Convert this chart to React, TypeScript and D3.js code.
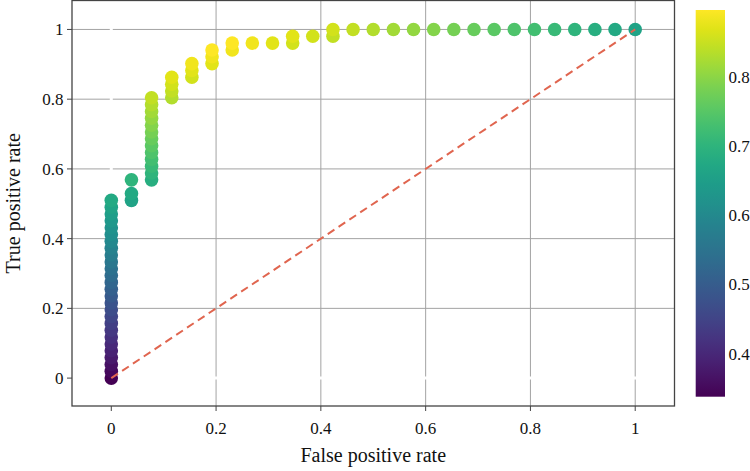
import React from "react";
import * as d3 from "d3";

// False positive rate of each threshold point
const fpr: number[] = [
  0, 0, 0, 0, 0, 0, 0, 0, 0, 0, 0, 0, 0, 0, 0, 0, 0, 0, 0, 0, 0, 0, 0, 0, 0, 0, 0,
  0.0385, 0.0385, 0.0385,
  0.0769, 0.0769, 0.0769, 0.0769, 0.0769, 0.0769, 0.0769, 0.0769, 0.0769, 0.0769, 0.0769, 0.0769, 0.0769,
  0.1154, 0.1154, 0.1154, 0.1154,
  0.1538, 0.1538, 0.1538,
  0.1923, 0.1923, 0.1923,
  0.2308, 0.2308,
  0.2692,
  0.3077,
  0.3462, 0.3462,
  0.3846,
  0.4231, 0.4231,
  0.4615, 0.5, 0.5385, 0.5769, 0.6154, 0.6538, 0.6923, 0.7308, 0.7692, 0.8077, 0.8462, 0.8846, 0.9231, 0.9615, 1,
];

// True positive rate of each threshold point
const tpr: number[] = [
  0, 0.0196, 0.0392, 0.0588, 0.0784, 0.098, 0.1176, 0.1373, 0.1569, 0.1765, 0.1961, 0.2157, 0.2353, 0.2549,
  0.2745, 0.2941, 0.3137, 0.3333, 0.3529, 0.3725, 0.3922, 0.4118, 0.4314, 0.451, 0.4706, 0.4902, 0.5098,
  0.5098, 0.5294, 0.5686,
  0.5686, 0.5882, 0.6078, 0.6275, 0.6471, 0.6667, 0.6863, 0.7059, 0.7255, 0.7451, 0.7647, 0.7843, 0.8039,
  0.8039, 0.8235, 0.8431, 0.8627,
  0.8627, 0.8824, 0.902,
  0.902, 0.9216, 0.9412,
  0.9412, 0.9608,
  0.9608,
  0.9608,
  0.9608, 0.9804,
  0.9804,
  0.9804, 1,
  1, 1, 1, 1, 1, 1, 1, 1, 1, 1, 1, 1, 1, 1, 1,
];

// Colour value (accuracy) of each threshold point
const accuracy: number[] = [
  0.3377, 0.3506, 0.3636, 0.3766, 0.3896, 0.4026, 0.4156, 0.4286, 0.4416, 0.4545, 0.4675, 0.4805, 0.4935, 0.5065,
  0.5195, 0.5325, 0.5455, 0.5584, 0.5714, 0.5844, 0.5974, 0.6104, 0.6234, 0.6364, 0.6494, 0.6623, 0.6753,
  0.6623, 0.6753, 0.7013,
  0.6883, 0.7013, 0.7143, 0.7273, 0.7403, 0.7532, 0.7662, 0.7792, 0.7922, 0.8052, 0.8182, 0.8312, 0.8442,
  0.8312, 0.8442, 0.8571, 0.8701,
  0.8571, 0.8701, 0.8831,
  0.8701, 0.8831, 0.8961,
  0.8831, 0.8961,
  0.8831,
  0.8701,
  0.8571, 0.8701,
  0.8571,
  0.8442, 0.8571,
  0.8442, 0.8312, 0.8182, 0.8052, 0.7922, 0.7792, 0.7662, 0.7532, 0.7403, 0.7273, 0.7143, 0.7013, 0.6883, 0.6753, 0.6623,
];

const xTicks: number[] = [0, 0.2, 0.4, 0.6, 0.8, 1];
const yTicks: number[] = [0, 0.2, 0.4, 0.6, 0.8, 1];
const xTickLabels: string[] = ["0", "0.2", "0.4", "0.6", "0.8", "1"];
const yTickLabels: string[] = ["0", "0.2", "0.4", "0.6", "0.8", "1"];
const cbarTicks: number[] = [0.4, 0.5, 0.6, 0.7, 0.8];
const diagonal: [number, number][] = [[0, 0], [1, 1]];
const xTitle = "False positive rate";
const yTitle = "True positive rate";

const W = 750;
const H = 471;
const plot = { left: 72, right: 674.5, top: 0.5, bottom: 406 };
const cbar = { left: 695.7, right: 725, top: 10, bottom: 396.7 };
const FONT = "'Liberation Serif', 'Times New Roman', serif";

export default function App() {
  const x = d3.scaleLinear().domain([-0.075, 1.075]).range([plot.left, plot.right]);
  const y = d3.scaleLinear().domain([-0.08, 1.083]).range([plot.bottom, plot.top]);
  const cMin = d3.min(accuracy) as number;
  const cMax = d3.max(accuracy) as number;
  const color = d3.scaleSequential(d3.interpolateViridis).domain([cMin, cMax]);
  const cy = d3.scaleLinear().domain([cMin, cMax]).range([cbar.bottom, cbar.top]);
  const line = d3.line<[number, number]>().x((d) => x(d[0])).y((d) => y(d[1]));
  const stops = d3.range(0, 1.0001, 0.05);

  return (
    <svg
      width={W}
      height={H}
      style={{ position: "absolute", left: 0, top: 0, display: "block", background: "#fff" }}
      fontFamily={FONT}
    >
      <defs>
        <linearGradient id="cbgrad" x1="0" y1="1" x2="0" y2="0">
          {stops.map((t, i) => (
            <stop key={i} offset={t} stopColor={d3.interpolateViridis(t)} />
          ))}
        </linearGradient>
      </defs>
      <rect x={0} y={0} width={W} height={H} fill="#fff" />
      {/* grid */}
      {xTicks.map((t, i) => (
        <line key={"gx" + i} x1={x(t)} x2={x(t)} y1={plot.top} y2={plot.bottom} stroke="#a3a3a3" strokeWidth={1} />
      ))}
      {yTicks.map((t, i) => (
        <line key={"gy" + i} x1={plot.left} x2={plot.right} y1={y(t)} y2={y(t)} stroke="#a3a3a3" strokeWidth={1} />
      ))}
      {/* zero lines */}
      <line x1={x(0)} x2={x(0)} y1={plot.top} y2={plot.bottom} stroke="#fff" strokeWidth={3} />
      <line x1={plot.left} x2={plot.right} y1={y(0)} y2={y(0)} stroke="#fff" strokeWidth={3} />
      {/* points */}
      {fpr.map((v, i) => (
        <circle key={"p" + i} cx={x(v)} cy={y(tpr[i])} r={6.8} fill={color(accuracy[i])} />
      ))}
      {/* diagonal */}
      <path d={line(diagonal) || ""} fill="none" stroke="#e0654f" strokeWidth={2} strokeDasharray="8,5" />
      {/* border */}
      <rect
        x={plot.left}
        y={plot.top}
        width={plot.right - plot.left}
        height={plot.bottom - plot.top}
        fill="none"
        stroke="#444"
        strokeWidth={1.3}
      />
      {/* x ticks */}
      {xTicks.map((t, i) => (
        <g key={"xt" + i}>
          <line x1={x(t)} x2={x(t)} y1={plot.bottom} y2={plot.bottom + 5} stroke="#444" strokeWidth={1} />
          <text x={x(t)} y={434} textAnchor="middle" fontSize={17} fill="#111">
            {xTickLabels[i]}
          </text>
        </g>
      ))}
      {/* y ticks */}
      {yTicks.map((t, i) => (
        <g key={"yt" + i}>
          <line x1={plot.left - 5} x2={plot.left} y1={y(t)} y2={y(t)} stroke="#444" strokeWidth={1} />
          <text x={63.5} y={y(t) + 6} textAnchor="end" fontSize={17} fill="#111">
            {yTickLabels[i]}
          </text>
        </g>
      ))}
      {/* titles */}
      <text x={(plot.left + plot.right) / 2} y={462} textAnchor="middle" fontSize={20} fill="#111">
        {xTitle}
      </text>
      <text
        transform={`translate(20,${(plot.top + plot.bottom) / 2}) rotate(-90)`}
        textAnchor="middle"
        fontSize={20}
        fill="#111"
      >
        {yTitle}
      </text>
      {/* colorbar */}
      <rect
        x={cbar.left}
        y={cbar.top}
        width={cbar.right - cbar.left}
        height={cbar.bottom - cbar.top}
        fill="url(#cbgrad)"
      />
      {cbarTicks.map((t, i) => (
        <text key={"cb" + i} x={728.5} y={cy(t) + 6} fontSize={17} fill="#111">
          {String(t)}
        </text>
      ))}
    </svg>
  );
}
